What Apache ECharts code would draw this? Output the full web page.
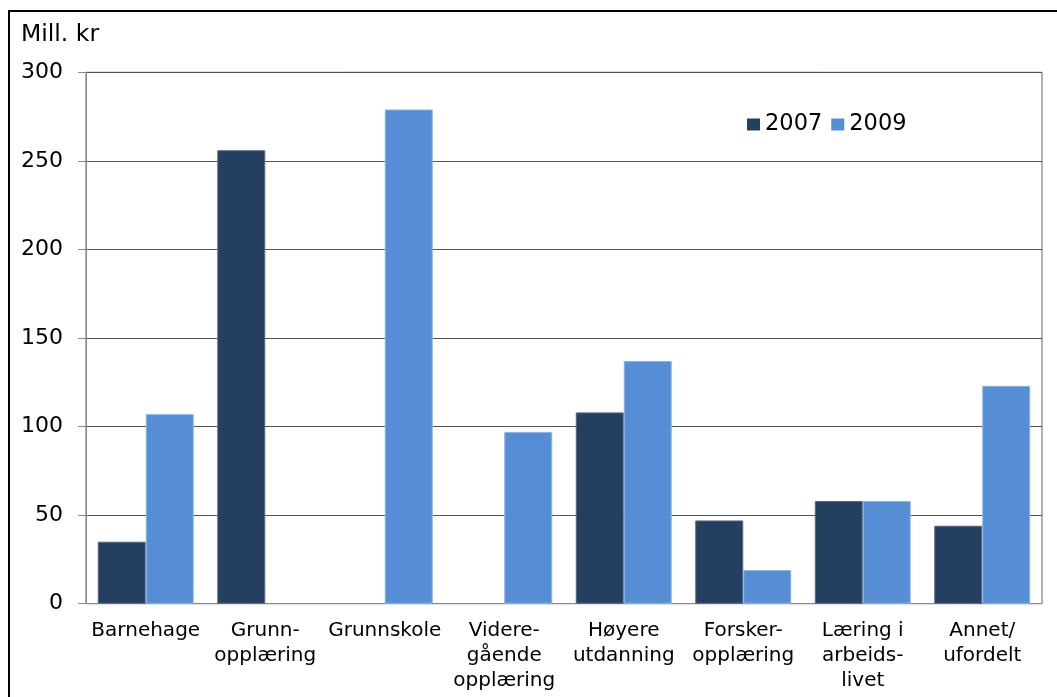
<!DOCTYPE html>
<html>
<head>
<meta charset="utf-8">
<script src="https://cdn.jsdelivr.net/npm/echarts@6/dist/echarts.min.js"></script>
<style>
html,body{margin:0;padding:0;background:#fff;}
#c{width:1057px;height:697px;}
</style>
</head>
<body>
<div id="c"></div>
<script>
const categories = ['Barnehage', 'Grunn-\nopplæring', 'Grunnskole', 'Videre-\ngående\nopplæring', 'Høyere\nutdanning', 'Forsker-\nopplæring', 'Læring i\narbeids-\nlivet', 'Annet/\nufordelt'];
const series2007 = [35, 256, 0, 0, 108, 47, 58, 44];
const series2009 = [107, 0, 279, 97, 137, 19, 58, 123];
const yTicks = [0, 50, 100, 150, 200, 250, 300];
const unitLabel = 'Mill. kr';

const font = 'DejaVu Sans, Verdana, sans-serif';
const hideZero = arr => arr.map(v => v === 0 ? null : v);
const chart = echarts.init(document.getElementById('c'), null, {renderer: 'canvas'});
chart.setOption({
  animation: false,
  backgroundColor: '#fff',
  textStyle: {fontFamily: font},
  graphic: [
    {type: 'rect', shape: {x: 9, y: 11, width: 1200, height: 900}, style: {fill: 'none', stroke: '#000', lineWidth: 2}, z: 100},
    {type: 'text', left: 21, top: 23, style: {text: unitLabel, font: '23.5px ' + font, fill: '#000'}}
  ],
  legend: {
    left: 742, top: 108,
    icon: 'rect',
    itemWidth: 13, itemHeight: 12, itemGap: 9,
    itemStyle: {borderWidth: 0},
    textStyle: {fontSize: 22.5, color: '#000', fontFamily: font},
    data: ['2007', '2009']
  },
  grid: {left: 86, right: 15, top: 72.3, bottom: 93.3, show: true, borderColor: '#666', borderWidth: 1},
  xAxis: {
    type: 'category',
    data: categories,
    axisLine: {lineStyle: {color: '#888', width: 1}},
    axisTick: {length: 7, lineStyle: {color: '#888'}},
    axisLabel: {fontSize: 20, lineHeight: 25, color: '#000', margin: 15, interval: 0, fontFamily: font}
  },
  yAxis: {
    type: 'value', min: 0, max: 300, interval: 50,
    axisLine: {show: true, lineStyle: {color: '#888'}},
    axisTick: {show: true, length: 8, lineStyle: {color: '#888'}},
    splitLine: {lineStyle: {color: '#555', width: 1}},
    axisLabel: {fontSize: 22, color: '#000', margin: 23, fontFamily: font,
      formatter: v => yTicks.includes(v) ? String(v) : ''}
  },
  series: [
    {name: '2007', type: 'bar', data: hideZero(series2007), barGap: '0%', barCategoryGap: '19.7%',
     itemStyle: {color: '#253f60', borderColor: '#56677f', borderWidth: 1}},
    {name: '2009', type: 'bar', data: hideZero(series2009), barGap: '0%', barCategoryGap: '19.7%',
     itemStyle: {color: '#558ed5', borderColor: '#8cb3e6', borderWidth: 1}}
  ]
});
</script>
</body>
</html>
